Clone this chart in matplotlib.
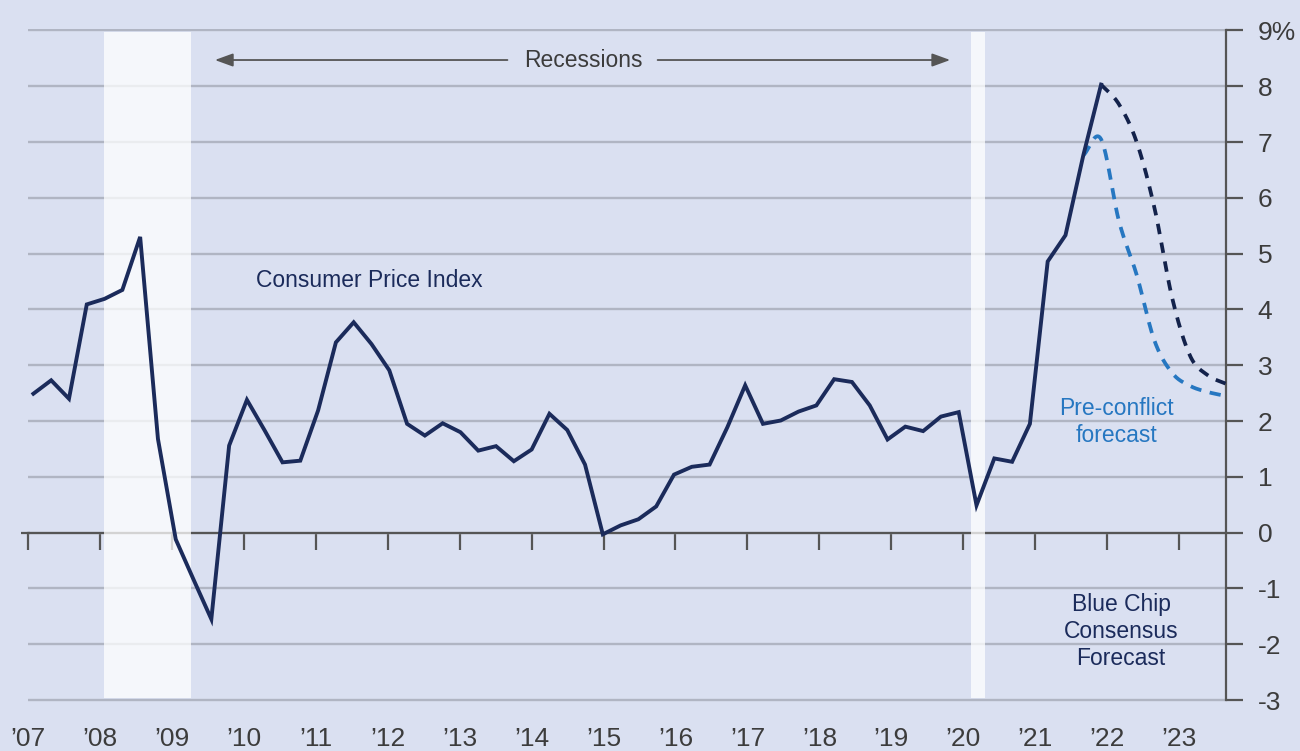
import numpy as np
import pandas as pd
import matplotlib
matplotlib.use("Agg")
import matplotlib.pyplot as plt

plt.rcParams['font.family'] = ['Liberation Sans', 'DejaVu Sans']

# quarterly CPI, year-over-year %, 2007Q1 - 2022Q1
cpi_start, cpi_end = '2007Q1', '2022Q1'
cpi = [2.49, 2.73, 2.40, 4.09, 4.19, 4.35, 5.30, 1.68,
       -0.12, -0.84, -1.55, 1.56, 2.38, 1.83, 1.26, 1.29,
       2.19, 3.41, 3.77, 3.38, 2.91, 1.95, 1.74, 1.96,
       1.80, 1.47, 1.55, 1.28, 1.49, 2.13, 1.84, 1.22,
       -0.03, 0.13, 0.24, 0.47, 1.04, 1.18, 1.22, 1.89,
       2.64, 1.95, 2.01, 2.17, 2.28, 2.75, 2.70, 2.28,
       1.67, 1.90, 1.82, 2.08, 2.16, 0.49, 1.33, 1.27,
       1.95, 4.86, 5.33, 6.76, 8.03]

# Blue Chip consensus forecast
bc_start, bc_end = '2022Q1', '2023Q4'
bluechip = [8.03, 7.68, 7.00, 5.82, 4.20, 3.17, 2.82, 2.67]

# pre-conflict forecast
pc_start, pc_end = '2021Q4', '2023Q4'
preconflict = [6.76, 7.05, 5.59, 4.62, 3.44, 2.86, 2.63, 2.52, 2.45]

recessions = [(2007.99, 2009.22), (2020.17, 2020.37)]
years = list(range(2007, 2024))
year_labels = ['\u2019' + str(y)[2:] for y in years]
yticks = list(range(-3, 10))
ytick_labels = [str(v) for v in yticks[:-1]] + ['9%']


def qx(start, end):
    p = pd.period_range(start, end, freq='Q')
    return np.array(p.year + (p.quarter - 1) / 4.0)


def smooth(x, y, n=24):
    # catmull-rom style smoothing, like a "smoothed line" in a spreadsheet chart
    x = np.asarray(x, float)
    y = np.asarray(y, float)
    px = np.concatenate([[2 * x[0] - x[1]], x, [2 * x[-1] - x[-2]]])
    py = np.concatenate([[2 * y[0] - y[1]], y, [2 * y[-1] - y[-2]]])
    xs, ys = [], []
    t = np.linspace(0, 1, n)
    for i in range(1, len(px) - 2):
        for arr, out in ((px, xs), (py, ys)):
            p0, p1, p2, p3 = arr[i - 1], arr[i], arr[i + 1], arr[i + 2]
            out.extend(0.5 * (2 * p1 + (-p0 + p2) * t
                              + (2 * p0 - 5 * p1 + 4 * p2 - p3) * t ** 2
                              + (-p0 + 3 * p1 - 3 * p2 + p3) * t ** 3))
    return np.array(xs), np.array(ys)


bg = '#dae0f1'
grid_c = '#b0b5c3'
axis_c = '#555555'
navy = '#1b2b5b'
dark = '#13224b'
light = '#2677c1'
txt = '#3c3c3c'

fig = plt.figure(figsize=(13, 7.51), dpi=100, facecolor=bg)
ax = fig.add_axes([0.0213, 0.0656, 0.9215, 0.8961], facecolor=bg)

ax.set_xlim(2006.944, 2023.75)
ax.set_ylim(-3.03, 9.03)

for s in ['top', 'left']:
    ax.spines[s].set_visible(False)
ax.spines['bottom'].set_position(('data', 0))
ax.spines['bottom'].set_color(axis_c)
ax.spines['bottom'].set_linewidth(1.6)
ax.spines['right'].set_color(axis_c)
ax.spines['right'].set_linewidth(1.6)
ax.spines['right'].set_bounds(-3, 9)
# zero line runs a little past the left edge
ax.plot([2006.83, 2006.95], [0, 0], color=axis_c, lw=1.6, clip_on=False,
        solid_capstyle='butt')

ax.set_yticks(yticks)
ax.set_yticklabels(ytick_labels)
ax.yaxis.tick_right()
ax.tick_params(axis='y', direction='out', length=12, width=1.6, color=axis_c,
               labelsize=19, labelcolor=txt, pad=11)
# the source's year ticks drift a little against the quarterly points
tick_pos = [y - 0.08 + 0.0112 * (y - 2007) for y in years]
ax.set_xticks(tick_pos)
ax.set_xticklabels(year_labels)
ax.tick_params(axis='x', direction='out', length=12, width=1.6, color=axis_c,
               labelsize=19, labelcolor=txt, pad=128)

ax.set_axisbelow(True)
ax.grid(axis='y', color=grid_c, lw=1.7)
ax.grid(axis='x', visible=False)

for x0, x1 in recessions:
    ax.fill_between([x0, x1], -2.97, 8.97, color='white', alpha=0.75, lw=0, zorder=2.7)

ax.plot(qx(cpi_start, cpi_end), cpi, color=navy, lw=2.8, zorder=4,
        solid_joinstyle='miter')

sx, sy = smooth(qx(pc_start, pc_end), preconflict)
ax.plot(sx, sy, color=light, lw=2.7, dashes=(3.0, 2.3), zorder=3.5)
sx, sy = smooth(qx(bc_start, bc_end), bluechip)
ax.plot(sx, sy, color=dark, lw=2.7, dashes=(2.8, 2.3), zorder=3.6)

# recession arrow
ay = 8.47
ax.text(2014.73, ay, 'Recessions', ha='center', va='center', fontsize=16.5, color=txt)
arr = dict(arrowstyle='-|>,head_length=0.55,head_width=0.2', color=axis_c, lw=1.3,
           shrinkA=0, shrinkB=0, mutation_scale=20)
ax.annotate('', xy=(2009.55, ay), xytext=(2013.66, ay), arrowprops=arr)
ax.annotate('', xy=(2019.88, ay), xytext=(2015.77, ay), arrowprops=arr)

ax.text(2010.13, 4.52, 'Consumer Price Index', ha='left', va='center',
        fontsize=16.5, color=navy)
ax.text(2022.22, 1.98, 'Pre-conflict\nforecast', ha='center', va='center',
        fontsize=16.5, color=light, linespacing=1.2)
ax.text(2022.28, -1.77, 'Blue Chip\nConsensus\nForecast', ha='center', va='center',
        fontsize=16.5, color=navy, linespacing=1.2)

fig.savefig('out.png', dpi=100, facecolor=bg)
